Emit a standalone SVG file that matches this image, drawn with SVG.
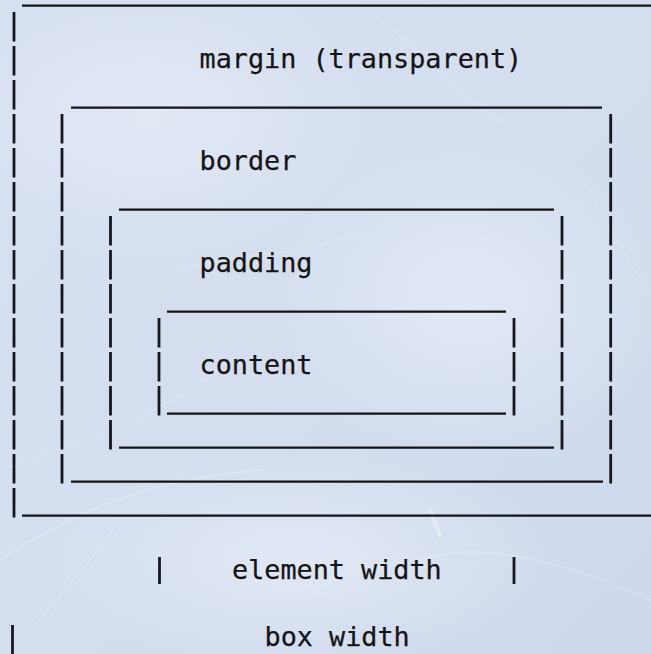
<svg xmlns="http://www.w3.org/2000/svg" width="651" height="654" viewBox="0 0 651 654">
  <defs>
    <linearGradient id="bg" x1="0" y1="0" x2="1" y2="1">
      <stop offset="0" stop-color="#d7e0f0"/>
      <stop offset="0.5" stop-color="#d4deef"/>
      <stop offset="1" stop-color="#ced9ec"/>
    </linearGradient>
    <radialGradient id="glow" cx="0.5" cy="0.5" r="0.5">
      <stop offset="0" stop-color="#e8edf7" stop-opacity="0.7"/>
      <stop offset="1" stop-color="#e8edf7" stop-opacity="0"/>
    </radialGradient>
    <style>
      .h { stroke: #141416; stroke-width: 2.3; fill: none; }
      .v { stroke: #17171f; stroke-width: 2.8; fill: none; stroke-dasharray: 29.5 4.5; }
      .t { font-family: "DejaVu Sans Mono", "Liberation Mono", monospace; font-size: 26.8px; fill: #141416; stroke: #141416; stroke-width: 0.25; }
      .streak { stroke: #ffffff; fill: none; stroke-linecap: round; }
    </style>
  </defs>

  <!-- background texture -->
  <g id="background">
    <rect x="0" y="0" width="651" height="654" fill="url(#bg)"/>
    <ellipse cx="150" cy="120" rx="220" ry="140" fill="url(#glow)"/>
    <ellipse cx="470" cy="300" rx="200" ry="160" fill="url(#glow)"/>
    <ellipse cx="300" cy="560" rx="260" ry="110" fill="url(#glow)"/>
    <path class="streak" stroke-opacity="0.22" stroke-width="2" d="M0 560 C 60 520, 140 480, 260 470"/>
    <path class="streak" stroke-opacity="0.2" stroke-width="1.5" d="M20 640 C 60 600, 90 560, 120 520"/>
    <path class="streak" stroke-opacity="0.18" stroke-width="1.5" d="M380 20 C 430 60, 470 110, 520 130"/>
    <path class="streak" stroke-opacity="0.18" stroke-width="2" d="M420 560 C 480 540, 560 560, 651 600"/>
    <path class="streak" stroke-opacity="0.18" stroke-width="1.5" d="M0 470 C 80 440, 160 420, 230 360"/>
    <path class="streak" stroke-opacity="0.18" stroke-width="1.5" d="M180 270 C 240 250, 300 260, 360 230"/>
    <path class="streak" stroke-opacity="0.16" stroke-width="1.5" d="M560 150 C 600 200, 620 260, 651 290"/>
    <path class="streak" stroke-opacity="0.35" stroke-width="4" d="M430 510 L 440 535"/>
  </g>

  <!-- margin box -->
  <g id="margin">
    <line class="h" x1="22" y1="5.7" x2="651" y2="5.7"/>
    <line class="v" x1="14" y1="12" x2="14" y2="517.5"/>
    <line class="h" x1="22" y1="515.7" x2="651" y2="515.7"/>
    <text class="t" x="199.5" y="68">margin (transparent)</text>
  </g>

  <!-- border box -->
  <g id="border">
    <line class="h" x1="71" y1="107.7" x2="602" y2="107.7"/>
    <line class="v" x1="62" y1="114" x2="62" y2="483.5"/>
    <line class="v" x1="610.7" y1="114" x2="610.7" y2="483.5"/>
    <line class="h" x1="71" y1="481.7" x2="603" y2="481.7"/>
    <text class="t" x="199.5" y="170">border</text>
  </g>

  <!-- padding box -->
  <g id="padding">
    <line class="h" x1="119" y1="209.7" x2="554" y2="209.7"/>
    <line class="v" x1="110.5" y1="216" x2="110.5" y2="449.5"/>
    <line class="v" x1="562" y1="216" x2="562" y2="449.5"/>
    <line class="h" x1="119" y1="447.7" x2="554" y2="447.7"/>
    <text class="t" x="199.5" y="272">padding</text>
  </g>

  <!-- content box -->
  <g id="content">
    <line class="h" x1="167" y1="311.7" x2="506" y2="311.7"/>
    <line class="v" x1="159" y1="318" x2="159" y2="415.5"/>
    <line class="v" x1="514" y1="318" x2="514" y2="415.5"/>
    <line class="h" x1="167" y1="413.7" x2="506" y2="413.7"/>
    <text class="t" x="199.5" y="374">content</text>
  </g>

  <!-- element width -->
  <g id="element-width">
    <line class="v" x1="159.5" y1="557" x2="159.5" y2="584"/>
    <line class="v" x1="514" y1="557" x2="514" y2="584"/>
    <text class="t" x="232" y="579">element width</text>
  </g>

  <!-- box width -->
  <g id="box-width">
    <line class="v" x1="12.5" y1="625" x2="12.5" y2="654"/>
    <text class="t" x="264.5" y="646">box width</text>
  </g>

  <g id="connectors"/>
</svg>
